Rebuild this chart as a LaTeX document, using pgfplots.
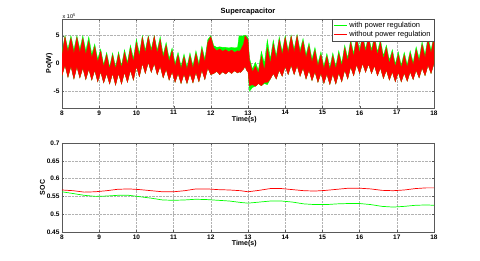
\documentclass[border=0pt]{standalone}
\usepackage{pgfplots}
\pgfplotsset{compat=1.18}
\usepackage{pgfplotstable}
\usepgfplotslibrary{fillbetween}
\usepackage{fontspec}
\setmainfont{Liberation Sans}

\pgfplotstableread{
t ru rl gu gl
8.00 1.5 -2.2 2.0 -2.2
8.08 4.8 -0.3 5.0 -0.3
8.16 2.0 -2.5 2.6 -2.5
8.24 4.6 -0.5 5.0 -0.5
8.32 1.8 -2.8 2.5 -2.8
8.40 4.7 -0.6 5.0 -0.6
8.48 1.9 -2.6 2.6 -2.6
8.56 4.5 -0.8 5.0 -0.8
8.64 1.6 -2.9 2.3 -2.9
8.72 4.0 -1.0 4.8 -1.0
8.80 1.0 -3.0 1.7 -3.0
8.88 3.0 -1.2 3.5 -1.2
8.96 0.2 -3.3 0.8 -3.3
9.04 2.2 -1.5 2.6 -1.5
9.12 -0.6 -3.5 -0.2 -3.5
9.20 1.6 -1.8 2.0 -1.8
9.28 -1.0 -3.7 -0.6 -3.7
9.36 1.5 -1.8 1.9 -1.8
9.44 -1.0 -3.9 -0.6 -3.9
9.52 1.7 -1.8 2.1 -1.8
9.60 -0.8 -3.7 -0.4 -3.7
9.68 2.0 -1.6 2.5 -1.6
9.76 -0.3 -3.4 0.2 -3.4
9.84 2.8 -1.2 3.3 -1.2
9.92 0.3 -3.0 0.9 -3.0
10.00 3.8 -0.5 4.4 -0.5
10.08 1.2 -2.4 1.8 -2.4
10.16 4.7 0.0 5.0 0.0
10.24 1.8 -1.8 2.4 -1.8
10.32 4.8 0.2 5.0 0.2
10.40 2.0 -1.6 2.6 -1.6
10.48 4.9 0.0 5.0 0.0
10.56 1.8 -2.0 2.4 -2.0
10.64 4.3 -0.5 4.8 -0.5
10.72 1.0 -2.6 1.6 -2.6
10.80 3.3 -1.0 3.8 -1.0
10.88 0.3 -3.0 0.9 -3.0
10.96 2.3 -1.5 2.8 -1.5
11.04 -0.5 -3.4 0.0 -3.4
11.12 1.5 -1.8 2.0 -1.8
11.20 -1.0 -3.6 -0.5 -3.6
11.28 1.2 -1.9 1.7 -1.9
11.36 -1.1 -3.6 -0.6 -3.6
11.44 1.4 -1.8 1.9 -1.8
11.52 -0.9 -3.5 -0.4 -3.5
11.60 1.8 -1.6 2.3 -1.6
11.68 -0.5 -3.3 0.0 -3.3
11.76 2.6 -1.2 3.1 -1.2
11.84 0.2 -2.9 0.8 -2.9
11.92 3.8 -0.8 4.3 -0.8
12.00 4.8 -2.0 5.0 -2.0
12.08 2.8 -1.8 3.2 -1.8
12.16 2.3 -1.4 2.9 -1.4
12.24 2.6 -2.0 3.0 -2.0
12.32 2.2 -1.5 2.9 -1.5
12.40 2.5 -1.9 2.9 -1.9
12.48 2.1 -1.4 2.8 -1.4
12.56 2.4 -1.8 2.9 -1.8
12.64 2.0 -1.3 2.8 -1.3
12.72 2.3 -1.7 2.9 -1.7
12.76 2.2 -1.5 5.0 -1.5
12.80 2.4 -1.6 4.9 -1.6
12.88 3.5 -1.0 5.0 -1.0
12.92 5.0 -0.5 5.1 -0.5
12.96 4.6 -1.2 5.0 -1.2
13.00 4.2 -1.5 4.6 -1.5
13.04 0.5 -4.0 1.0 -5.0
13.12 -1.5 -3.8 -1.0 -4.3
13.20 -0.5 -4.1 0.2 -4.1
13.28 -1.8 -3.6 -1.2 -3.6
13.36 1.3 -4.0 2.2 -4.0
13.44 -1.2 -3.4 0.0 -3.6
13.52 2.8 -3.4 4.3 -3.8
13.60 0.0 -2.8 0.8 -2.8
13.68 3.5 -1.8 4.2 -1.8
13.76 0.8 -2.8 1.4 -2.8
13.84 4.3 -1.2 4.8 -1.2
13.92 1.5 -2.3 2.1 -2.3
14.00 4.7 -0.5 5.0 -0.5
14.08 1.8 -2.0 2.4 -2.0
14.16 4.9 -0.3 5.1 -0.3
14.24 2.0 -2.0 2.6 -2.0
14.32 5.0 -0.4 5.2 -0.4
14.40 1.8 -2.3 2.4 -2.3
14.48 4.0 -0.8 4.5 -0.8
14.56 1.0 -2.8 1.6 -2.8
14.64 3.2 -1.2 3.7 -1.2
14.72 0.2 -3.1 0.8 -3.1
14.80 2.4 -1.5 2.9 -1.5
14.88 -0.5 -3.4 0.0 -3.4
14.96 1.6 -1.8 2.1 -1.8
15.04 -1.0 -3.6 -0.5 -3.6
15.12 1.3 -1.9 1.8 -1.9
15.20 -1.2 -3.8 -0.7 -3.8
15.28 1.4 -1.9 1.9 -1.9
15.36 -1.0 -3.7 -0.5 -3.7
15.44 1.8 -1.7 2.3 -1.7
15.52 -0.5 -3.3 0.0 -3.3
15.60 2.8 -1.2 3.3 -1.2
15.68 0.4 -2.8 1.0 -2.8
15.76 3.8 -0.6 4.3 -0.6
15.84 1.2 -2.2 1.8 -2.2
15.92 4.6 -0.2 5.0 -0.2
16.00 1.8 -1.8 2.4 -1.8
16.08 4.9 0.0 5.1 0.0
16.16 2.0 -1.6 2.6 -1.6
16.24 4.8 -0.1 5.0 -0.1
16.32 1.9 -1.8 2.5 -1.8
16.40 4.5 -0.4 5.0 -0.4
16.48 1.5 -2.2 2.1 -2.2
16.56 3.8 -0.8 4.3 -0.8
16.64 0.8 -2.7 1.4 -2.7
16.72 2.8 -1.2 3.3 -1.2
16.80 0.0 -3.0 0.6 -3.0
16.88 2.0 -1.5 2.5 -1.5
16.96 -0.6 -3.3 -0.1 -3.3
17.04 1.6 -1.6 2.1 -1.6
17.12 -0.8 -3.3 -0.3 -3.3
17.20 1.5 -1.7 2.0 -1.7
17.28 -0.7 -3.2 -0.2 -3.2
17.36 1.8 -1.5 2.3 -1.5
17.44 -0.3 -2.9 0.2 -2.9
17.52 2.5 -1.2 3.0 -1.2
17.60 0.3 -2.6 0.9 -2.6
17.68 3.4 -0.8 3.9 -0.8
17.76 1.0 -2.2 1.6 -2.2
17.84 4.3 -0.3 4.8 -0.3
17.92 1.8 -1.8 2.4 -1.8
18.00 4.8 0.0 5.0 0.0
}\powerdata

\pgfplotstableread{
t red green
8.0 0.568 0.563
8.3 0.566 0.558
8.6 0.562 0.553
8.9 0.563 0.550
9.2 0.566 0.551
9.5 0.570 0.553
9.8 0.571 0.553
10.1 0.569 0.549
10.4 0.566 0.545
10.7 0.563 0.540
11.0 0.563 0.539
11.3 0.566 0.540
11.6 0.571 0.542
11.9 0.571 0.541
12.2 0.569 0.539
12.5 0.568 0.537
12.8 0.566 0.533
13.0 0.563 0.531
13.3 0.567 0.534
13.6 0.572 0.537
13.9 0.572 0.537
14.2 0.569 0.534
14.5 0.566 0.529
14.8 0.565 0.527
15.1 0.567 0.527
15.4 0.570 0.529
15.7 0.573 0.530
16.0 0.573 0.530
16.3 0.571 0.527
16.6 0.567 0.522
16.9 0.566 0.520
17.2 0.568 0.522
17.5 0.572 0.525
17.8 0.574 0.526
18.0 0.574 0.525
}\socdata

\pgfplotsset{
  mlab/.style={
    scale only axis,
    width=372pt, height=89pt,
    anchor=north west,
    xmin=8, xmax=18,
    xtick={8,9,...,18},
    grid=major,
    grid style={densely dotted, gray!60, line width=0.4pt},
    axis line style={gray!70!black, line width=0.5pt},
    tick style={gray!70!black},
    major tick length=2pt,
    tick align=inside,
    /pgf/number format/assume math mode=true,
    tick label style={font=\bfseries\fontsize{6.5}{7}\selectfont, black},
    xticklabel style={yshift=1pt},
    yticklabel style={xshift=1pt},
    label style={font=\bfseries\fontsize{7}{8}\selectfont},
    xlabel style={at={(axis description cs:0.49,0)}, anchor=north, yshift=-8.5pt, inner sep=0pt},
  }
}

\definecolor{mgreen}{rgb}{0,1,0}
\definecolor{mred}{rgb}{1,0,0}

\begin{document}
\begin{tikzpicture}
\path (0pt,0pt) rectangle (480pt,-261pt);
\begin{axis}[mlab,
  name=top,
  at={(62pt,-19pt)},
  ymin=-8, ymax=8,
  ytick={-5,0,5},
  yticklabels={-5,0,5},
  title={Supercapacitor},
  title style={font=\bfseries\fontsize{7.5}{8}\selectfont, at={(axis description cs:0.5,1)}, anchor=south, yshift=-3pt, inner sep=1pt},
  xlabel={Time(s)},
  ylabel={Po(W)},
  ylabel style={at={(axis description cs:-0.025,0.5)}, anchor=south, inner sep=0pt},
  legend style={at={(1,1)}, anchor=north east, font=\fontsize{7.5}{8.5}\selectfont, draw=gray!60!black, inner sep=1.2pt, row sep=-2pt, cells={anchor=west}},
  legend image code/.code={\draw[#1, line width=0.8pt] (0pt,0pt) -- (13pt,0pt);},
]
\addlegendimage{mgreen}
\addlegendentry{with power regulation}
\addlegendimage{mred}
\addlegendentry{without power regulation}

\addplot[draw=none, name path=GU, forget plot] table[x=t, y=gu] {\powerdata};
\addplot[draw=none, name path=GL, forget plot] table[x=t, y=gl] {\powerdata};
\addplot[draw=none, name path=RU, forget plot] table[x=t, y=ru] {\powerdata};
\addplot[draw=none, name path=RL, forget plot] table[x=t, y=rl] {\powerdata};
\addplot[fill=mgreen, draw=mgreen, line width=0.3pt, forget plot] fill between[of=GU and GL];
\addplot[fill=mred, draw=mred, line width=0.3pt, forget plot] fill between[of=RU and RL];
\end{axis}
\node[anchor=south west, font=\fontsize{5.5}{6}\selectfont, inner sep=0.5pt] at (top.north west) {x 10\textsuperscript{5}};

\begin{axis}[mlab,
  at={(62pt,-143pt)},
  ymin=0.45, ymax=0.7,
  ytick={0.45,0.5,0.55,0.6,0.65,0.7},
  yticklabels={0.45,0.5,0.55,0.6,0.65,0.7},
  xlabel={Time(s)},
  ylabel={SOC},
  ylabel style={at={(axis description cs:-0.045,0.5)}, anchor=south, inner sep=0pt},
]
\addplot[mred, line width=0.7pt] table[x=t, y=red] {\socdata};
\addplot[mgreen, line width=0.7pt] table[x=t, y=green] {\socdata};
\end{axis}
\end{tikzpicture}
\end{document}
